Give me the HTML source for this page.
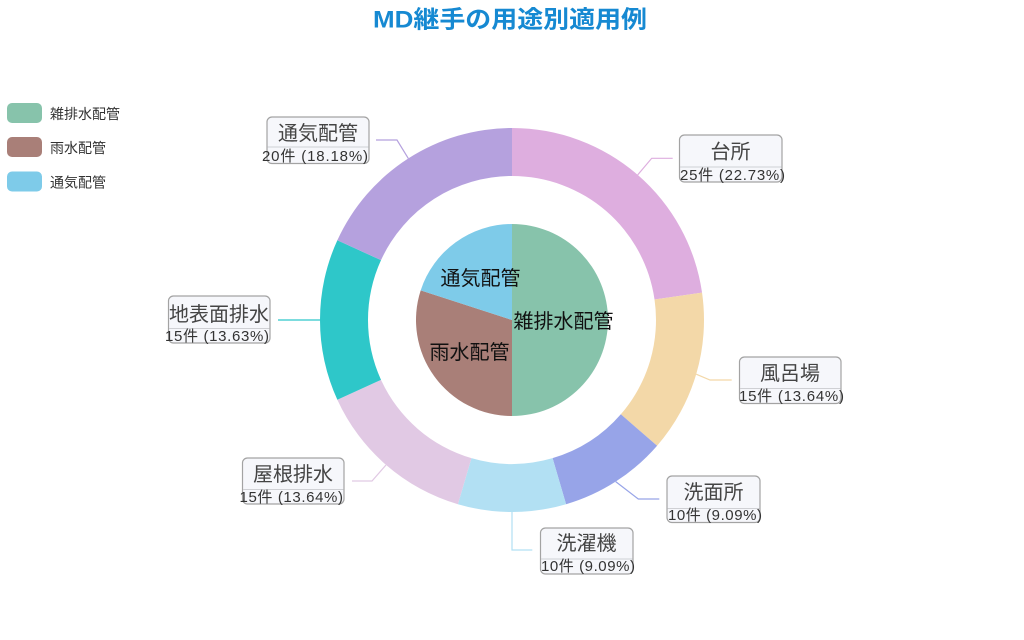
<!DOCTYPE html>
<html><head><meta charset="utf-8"><style>
html,body{margin:0;padding:0;background:#fff;}
svg{display:block;}
text{font-family:"Liberation Sans","Noto Sans CJK JP",sans-serif;}
</style></head><body>
<svg width="1024" height="640" viewBox="0 0 1024 640" xmlns="http://www.w3.org/2000/svg">
<rect width="1024" height="640" fill="#fff"/>
<!-- title -->
<text x="510" y="27.5" text-anchor="middle" font-size="24" font-weight="bold" fill="#1689d2" textLength="274" lengthAdjust="spacingAndGlyphs">MD継手の用途別適用例</text>

<!-- legend -->
<rect x="7" y="103" width="35" height="20" rx="5" fill="#87c3ab"/>
<text x="50" y="119" font-size="14" fill="#333">雑排水配管</text>
<rect x="7" y="137" width="35" height="20" rx="5" fill="#a97f78"/>
<text x="50" y="153" font-size="14" fill="#333">雨水配管</text>
<rect x="7" y="171.5" width="35" height="20" rx="5" fill="#7ecbe9"/>
<text x="50" y="187.5" font-size="14" fill="#333">通気配管</text>

<!-- donut -->
<path d="M512,128 A192,192 0 0 1 702.05,292.68 L654.53,299.51 A144,144 0 0 0 512,176 Z" fill="#deaedf"/>
<path d="M702.05,292.68 A192,192 0 0 1 657.10,445.73 L620.83,414.30 A144,144 0 0 0 654.53,299.51 Z" fill="#f3d8a8"/>
<path d="M657.10,445.73 A192,192 0 0 1 566.09,504.22 L552.57,458.17 A144,144 0 0 0 620.83,414.30 Z" fill="#97a4e8"/>
<path d="M566.09,504.22 A192,192 0 0 1 457.91,504.22 L471.43,458.17 A144,144 0 0 0 552.57,458.17 Z" fill="#b2e0f3"/>
<path d="M457.91,504.22 A192,192 0 0 1 337.35,399.76 L381.01,379.82 A144,144 0 0 0 471.43,458.17 Z" fill="#e1c9e4"/>
<path d="M337.35,399.76 A192,192 0 0 1 337.35,240.24 L381.01,260.18 A144,144 0 0 0 381.01,379.82 Z" fill="#2ec7c9"/>
<path d="M337.35,240.24 A192,192 0 0 1 512,128 L512,176 A144,144 0 0 0 381.01,260.18 Z" fill="#b5a1de"/>

<!-- inner pie -->
<path d="M512,320 L512,224 A96,96 0 0 1 512,416 Z" fill="#87c3ab"/>
<path d="M512,320 L512,416 A96,96 0 0 1 420.70,290.33 Z" fill="#a97f78"/>
<path d="M512,320 L420.70,290.33 A96,96 0 0 1 512,224 Z" fill="#7ecbe9"/>
<text x="480.5" y="285" text-anchor="middle" font-size="20" fill="#111">通気配管</text>
<text x="563.5" y="328" text-anchor="middle" font-size="20" fill="#111">雑排水配管</text>
<text x="469.5" y="359" text-anchor="middle" font-size="20" fill="#111">雨水配管</text>

<!-- connectors -->
<g fill="none" stroke-width="1.2">
<polyline points="637.7,174.9 651.7,158.3 672.7,158.3" stroke="#deaedf"/>
<polyline points="696.2,374.2 710,380 731.7,380" stroke="#f3d8a8"/>
<polyline points="615.7,481.6 638.3,499 659.3,499" stroke="#97a4e8"/>
<polyline points="512,512 512,550 532.3,550" stroke="#b2e0f3"/>
<polyline points="386,465 372,481 352,481" stroke="#e1c9e4"/>
<polyline points="320,320 299,320 278,320" stroke="#2ec7c9"/>
<polyline points="408.3,158.4 397,140 376,140" stroke="#b5a1de"/>
</g>

<!-- labels -->
<g stroke="#a3a3a3" stroke-width="1.2" fill="#f6f7fb">
<rect x="679.5" y="135" width="102.5" height="47" rx="5"/>
<rect x="739.5" y="357" width="101.5" height="46.5" rx="5"/>
<rect x="667" y="476" width="93" height="46.5" rx="5"/>
<rect x="540.5" y="528" width="92.5" height="46" rx="5"/>
<rect x="242.5" y="458" width="101.5" height="46" rx="5"/>
<rect x="168.5" y="296" width="101.5" height="47" rx="5"/>
<rect x="267" y="117" width="102" height="46.5" rx="5"/>
</g>
<g stroke="#cfd0d4" stroke-width="1">
<line x1="680" y1="167" x2="781.5" y2="167"/>
<line x1="740" y1="388.5" x2="840.5" y2="388.5"/>
<line x1="667.5" y1="508.5" x2="759.5" y2="508.5"/>
<line x1="541" y1="559" x2="632.5" y2="559"/>
<line x1="243" y1="489.5" x2="343.5" y2="489.5"/>
<line x1="169" y1="328.5" x2="269.5" y2="328.5"/>
<line x1="267.5" y1="147" x2="368.5" y2="147"/>
</g>
<g font-size="20" fill="#444" text-anchor="middle">
<text x="730.5" y="158.5">台所</text>
<text x="790" y="380">風呂場</text>
<text x="713.5" y="499">洗面所</text>
<text x="586.5" y="550">洗濯機</text>
<text x="293" y="481">屋根排水</text>
<text x="219" y="321">地表面排水</text>
<text x="318" y="140">通気配管</text>
</g>
<g font-size="15" fill="#333">
<text x="680" y="180" textLength="105" lengthAdjust="spacing">25件 (22.73%)</text>
<text x="739" y="401" textLength="105" lengthAdjust="spacing">15件 (13.64%)</text>
<text x="668" y="520" textLength="94" lengthAdjust="spacing">10件 (9.09%)</text>
<text x="541" y="571" textLength="94" lengthAdjust="spacing">10件 (9.09%)</text>
<text x="239.5" y="502" textLength="103.5" lengthAdjust="spacing">15件 (13.64%)</text>
<text x="165" y="341" textLength="104" lengthAdjust="spacing">15件 (13.63%)</text>
<text x="262" y="161" textLength="106" lengthAdjust="spacing">20件 (18.18%)</text>
</g>
</svg>
</body></html>
